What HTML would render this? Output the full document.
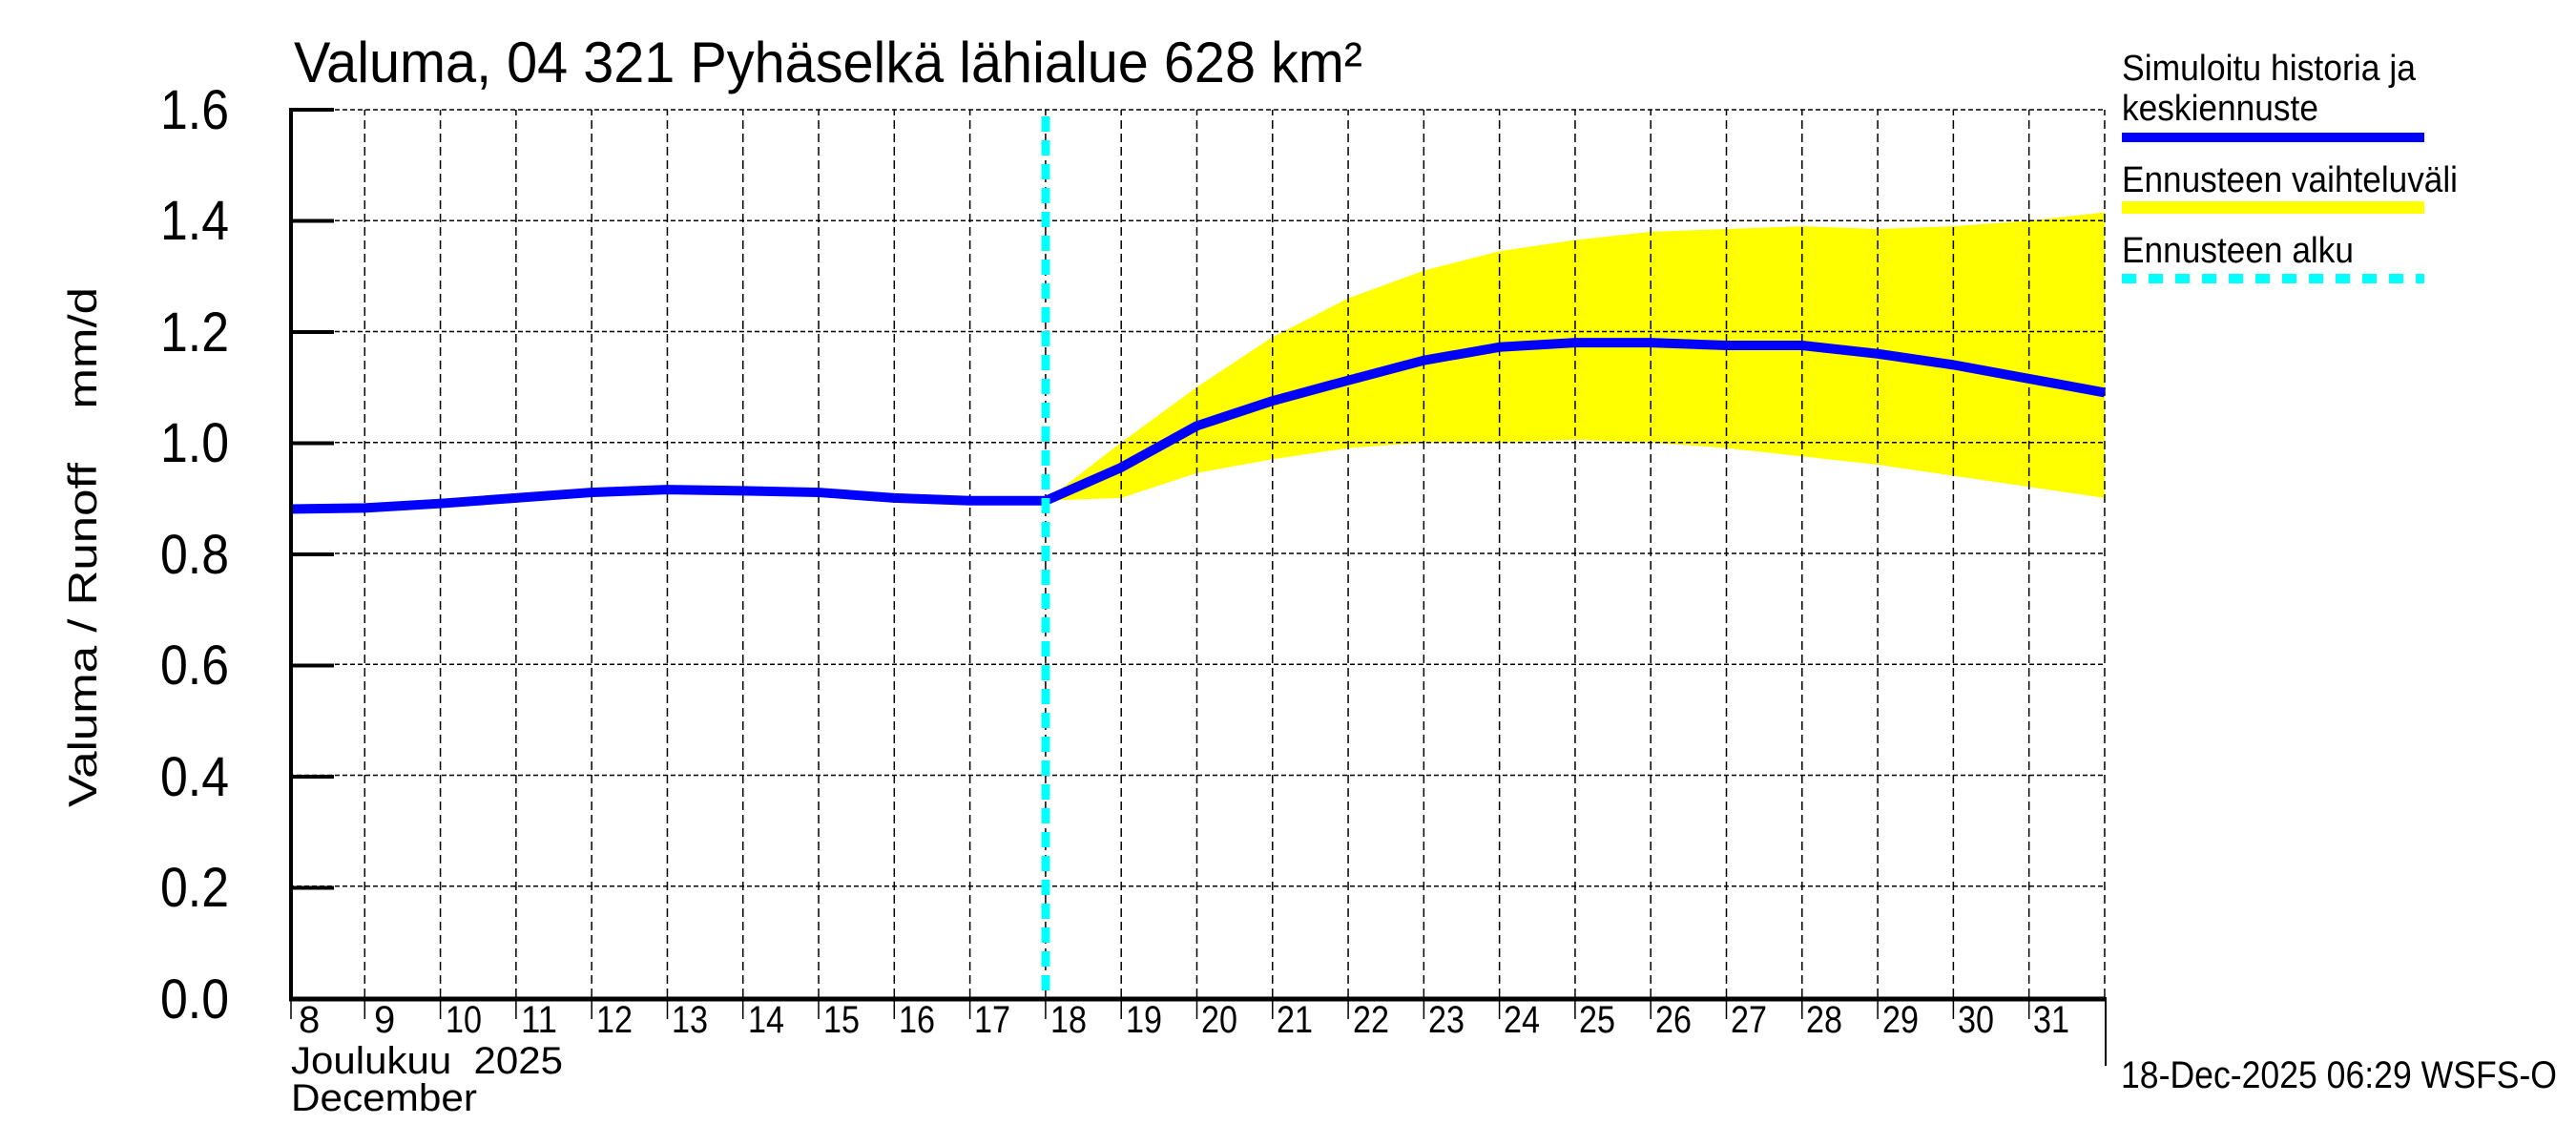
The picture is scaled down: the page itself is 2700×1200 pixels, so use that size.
<!DOCTYPE html>
<html><head><meta charset="utf-8"><style>
html,body{margin:0;padding:0;background:#fff;width:2700px;height:1200px;overflow:hidden}
svg text{font-family:"Liberation Sans",sans-serif;fill:#000}
</style></head><body>
<svg width="2700" height="1200" viewBox="0 0 2700 1200" xmlns="http://www.w3.org/2000/svg">
<g transform="translate(303,1045) scale(79.29,-581.25)">
  <polygon fill="#ffff00" points="10,0.895 11,1.0 12,1.1 13,1.19 14,1.26 15,1.31 16,1.345 17,1.365 18,1.38 19,1.385 20,1.39 21,1.385 22,1.39 23,1.4 24,1.415 24,0.9 23,0.92 22,0.94 21,0.96 20,0.975 19,0.99 18,1.0 17,1.005 16,1.0 15,1.0 14,0.99 13,0.97 12,0.945 11,0.9 10,0.895"/>
  <g stroke="#000" stroke-width="1.5" fill="none">
    <path vector-effect="non-scaling-stroke" stroke-dasharray="9,5" d="M1,0V1.6M2,0V1.6M3,0V1.6M4,0V1.6M5,0V1.6M6,0V1.6M7,0V1.6M8,0V1.6M9,0V1.6M10,0V1.6M11,0V1.6M12,0V1.6M13,0V1.6M14,0V1.6M15,0V1.6M16,0V1.6M17,0V1.6M18,0V1.6M19,0V1.6M20,0V1.6M21,0V1.6M22,0V1.6M23,0V1.6M24,0V1.6"/>
    <path vector-effect="non-scaling-stroke" stroke-dasharray="5,3" d="M0,0.2H24M0,0.4H24M0,0.6H24M0,0.8H24M0,1.0H24M0,1.2H24M0,1.4H24M0,1.6H24"/>
  </g>
  <polyline fill="none" stroke="#0000ff" stroke-width="10" vector-effect="non-scaling-stroke" stroke-linejoin="round" points="0,0.88 1,0.882 2,0.89 3,0.9 4,0.91 5,0.915 6,0.913 7,0.91 8,0.9 9,0.895 10,0.895 11,0.955 12,1.03 13,1.075 14,1.112 15,1.148 16,1.172 17,1.18 18,1.18 19,1.175 20,1.175 21,1.16 22,1.14 23,1.115 24,1.09"/>
</g>
<line x1="1096" y1="122" x2="1096" y2="1045" stroke="#00ffff" stroke-width="9" stroke-dasharray="16,9"/>
<line x1="305" y1="113" x2="305" y2="1048" stroke="#000" stroke-width="4"/>
<line x1="303" y1="1047" x2="2207" y2="1047" stroke="#000" stroke-width="5"/>
<line x1="2207" y1="1045" x2="2207" y2="1117" stroke="#000" stroke-width="2"/>
<g stroke="#000" stroke-width="4">
<path d="M305,115H350M305,231.5H350M305,348H350M305,464.5H350M305,581H350M305,697.5H350M305,814H350M305,930.5H350"/>
</g>
<g stroke="#000" stroke-width="1.5">
<path d="M305,1047V1068M382.3,1047V1068M461.6,1047V1068M540.9,1047V1068M620.2,1047V1068M699.5,1047V1068M778.7,1047V1068M858,1047V1068M937.3,1047V1068M1016.6,1047V1068M1095.9,1047V1068M1175.2,1047V1068M1254.5,1047V1068M1333.8,1047V1068M1413.1,1047V1068M1492.4,1047V1068M1571.6,1047V1068M1650.9,1047V1068M1730.2,1047V1068M1809.5,1047V1068M1888.8,1047V1068M1968.1,1047V1068M2047.4,1047V1068M2126.7,1047V1068"/>
</g>
<g font-size="58" text-anchor="end">
<text x="240" y="135" textLength="72" lengthAdjust="spacingAndGlyphs">1.6</text>
<text x="240" y="251" textLength="72" lengthAdjust="spacingAndGlyphs">1.4</text>
<text x="240" y="368" textLength="72" lengthAdjust="spacingAndGlyphs">1.2</text>
<text x="240" y="484" textLength="72" lengthAdjust="spacingAndGlyphs">1.0</text>
<text x="240" y="601" textLength="72" lengthAdjust="spacingAndGlyphs">0.8</text>
<text x="240" y="717" textLength="72" lengthAdjust="spacingAndGlyphs">0.6</text>
<text x="240" y="834" textLength="72" lengthAdjust="spacingAndGlyphs">0.4</text>
<text x="240" y="950" textLength="72" lengthAdjust="spacingAndGlyphs">0.2</text>
<text x="240" y="1067" textLength="72" lengthAdjust="spacingAndGlyphs">0.0</text>
</g>
<g font-size="40">
<text x="313" y="1082">8</text><text x="392" y="1082">9</text><text x="467" y="1082" textLength="38" lengthAdjust="spacingAndGlyphs">10</text><text x="546" y="1082" textLength="38" lengthAdjust="spacingAndGlyphs">11</text><text x="625" y="1082" textLength="38" lengthAdjust="spacingAndGlyphs">12</text><text x="704" y="1082" textLength="38" lengthAdjust="spacingAndGlyphs">13</text><text x="784" y="1082" textLength="38" lengthAdjust="spacingAndGlyphs">14</text><text x="863" y="1082" textLength="38" lengthAdjust="spacingAndGlyphs">15</text><text x="942" y="1082" textLength="38" lengthAdjust="spacingAndGlyphs">16</text><text x="1021" y="1082" textLength="38" lengthAdjust="spacingAndGlyphs">17</text><text x="1101" y="1082" textLength="38" lengthAdjust="spacingAndGlyphs">18</text><text x="1180" y="1082" textLength="38" lengthAdjust="spacingAndGlyphs">19</text><text x="1259" y="1082" textLength="38" lengthAdjust="spacingAndGlyphs">20</text><text x="1338" y="1082" textLength="38" lengthAdjust="spacingAndGlyphs">21</text><text x="1418" y="1082" textLength="38" lengthAdjust="spacingAndGlyphs">22</text><text x="1497" y="1082" textLength="38" lengthAdjust="spacingAndGlyphs">23</text><text x="1576" y="1082" textLength="38" lengthAdjust="spacingAndGlyphs">24</text><text x="1655" y="1082" textLength="38" lengthAdjust="spacingAndGlyphs">25</text><text x="1735" y="1082" textLength="38" lengthAdjust="spacingAndGlyphs">26</text><text x="1814" y="1082" textLength="38" lengthAdjust="spacingAndGlyphs">27</text><text x="1893" y="1082" textLength="38" lengthAdjust="spacingAndGlyphs">28</text><text x="1973" y="1082" textLength="38" lengthAdjust="spacingAndGlyphs">29</text><text x="2052" y="1082" textLength="38" lengthAdjust="spacingAndGlyphs">30</text><text x="2131" y="1082" textLength="38" lengthAdjust="spacingAndGlyphs">31</text>
<text x="305" y="1125" textLength="285" lengthAdjust="spacingAndGlyphs" xml:space="preserve">Joulukuu  2025</text>
<text x="305" y="1164" textLength="195" lengthAdjust="spacingAndGlyphs">December</text>
<text x="2223" y="1140" textLength="457" lengthAdjust="spacingAndGlyphs">18-Dec-2025 06:29 WSFS-O</text>
</g>
<text x="308" y="86" font-size="60" textLength="1120" lengthAdjust="spacingAndGlyphs">Valuma, 04 321 Pyhäselkä lähialue 628 km²</text>
<text transform="translate(101,846) rotate(-90)" font-size="42" textLength="545" lengthAdjust="spacingAndGlyphs" xml:space="preserve">Valuma / Runoff    mm/d</text>
<g font-size="38">
<text x="2224" y="84" textLength="308" lengthAdjust="spacingAndGlyphs">Simuloitu historia ja</text>
<text x="2224" y="126" textLength="206" lengthAdjust="spacingAndGlyphs">keskiennuste</text>
<text x="2224" y="201" textLength="352" lengthAdjust="spacingAndGlyphs">Ennusteen vaihteluväli</text>
<text x="2224" y="275" textLength="243" lengthAdjust="spacingAndGlyphs">Ennusteen alku</text>
</g>
<rect x="2224" y="139" width="317" height="10" fill="#0000ff"/>
<rect x="2224" y="211" width="317" height="13" fill="#ffff00"/>
<line x1="2224" y1="292" x2="2541" y2="292" stroke="#00ffff" stroke-width="10" stroke-dasharray="15,13"/>
</svg>
</body></html>
